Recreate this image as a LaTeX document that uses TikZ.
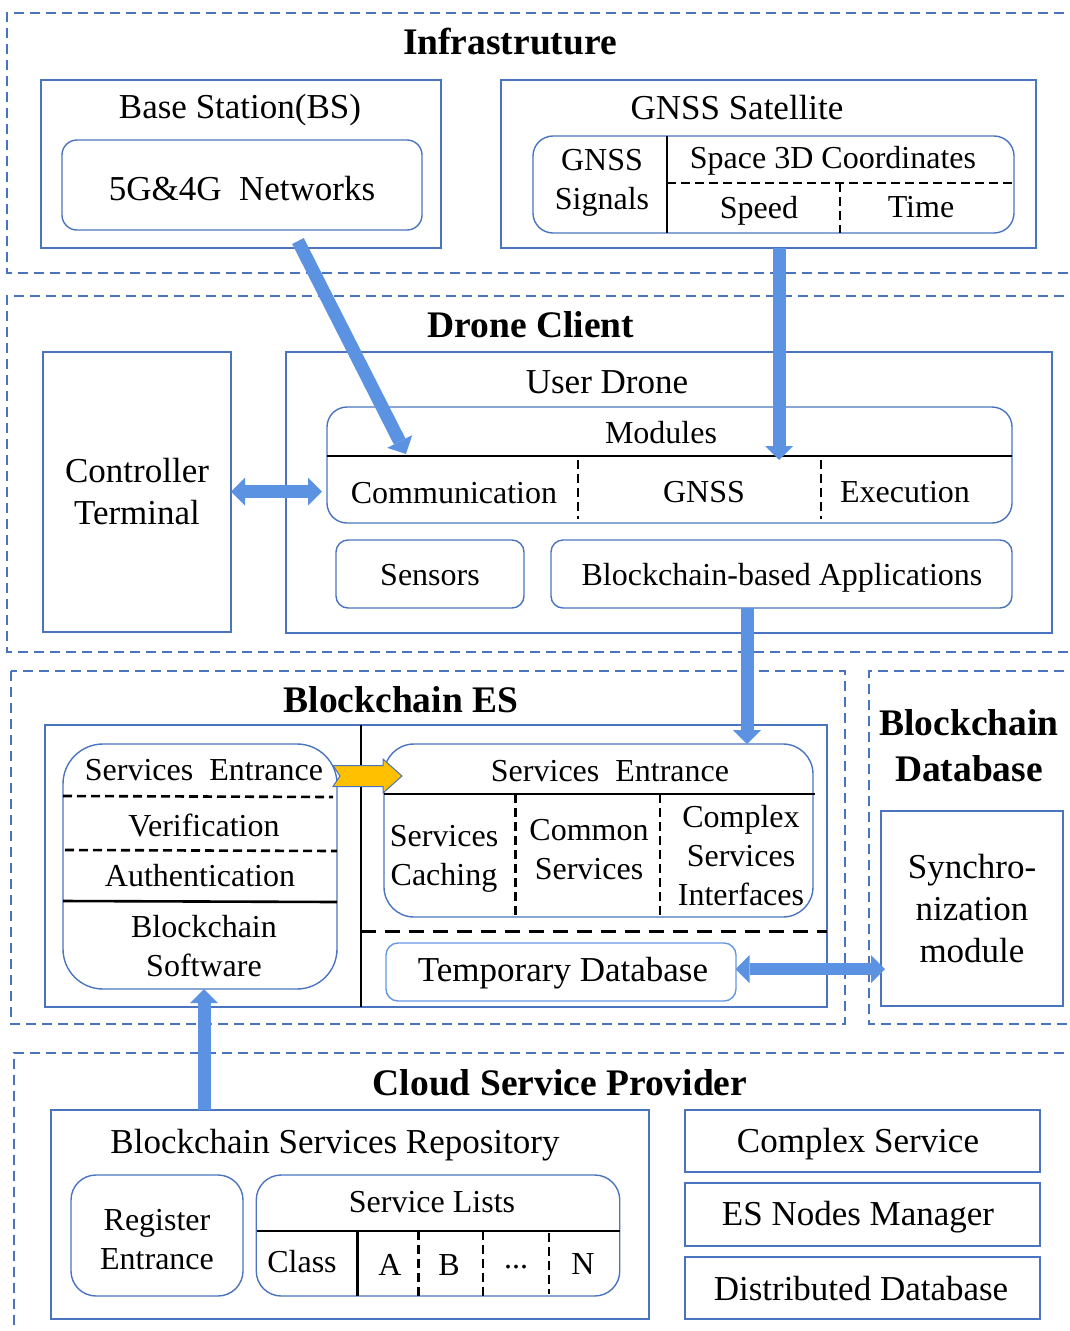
\documentclass[tikz,border=0pt]{standalone}
\usepackage{fontspec}
\setmainfont{Liberation Serif}
\usetikzlibrary{arrows.meta}
\usetikzlibrary{calc}

\definecolor{dblue}{RGB}{74,116,192}
\definecolor{lblue}{RGB}{100,150,225}
\definecolor{ablue}{RGB}{92,146,226}
\definecolor{gold}{RGB}{255,192,0}

\tikzset{
  grp/.style={draw=dblue, line width=1.7pt, dash pattern=on 10pt off 6pt},
  box/.style={draw=dblue, line width=1.4pt, inner sep=0pt, outer sep=0pt},
  rbox/.style={box, rounded corners=#1},
  lbl/.style={font=\fontsize{35}{42}\selectfont, align=center, inner sep=0pt},
  slbl/.style={font=\fontsize{32}{39}\selectfont, align=center, inner sep=0pt},
  ttl/.style={font=\fontsize{37.5}{46}\selectfont\bfseries, align=center, inner sep=0pt},
  divl/.style={black, line width=2.6pt},
  ddiv/.style={divl, dash pattern=on 9pt off 5pt},
  bt/.tip={Triangle[width=28pt,length=14pt,line width=0pt]},
  blk/.style={draw=ablue, line width=13pt, -bt},
  dblk/.style={draw=ablue, line width=12.5pt, bt-bt},
}

\begin{document}
\begin{tikzpicture}[x=1pt,y=-1pt]
\useasboundingbox (0,0) rectangle (1070,1331);

% dashed groups
\draw[grp] (1080,13) -- (7,13) -- (7,273) -- (1080,273);
\draw[grp] (1080,296) -- (7,296) -- (7,652) -- (1080,652);
\draw[grp] (11,671) rectangle (845,1024);
\draw[grp] (1080,671) -- (869,671) -- (869,1024) -- (1080,1024);
\draw[grp] (1080,1053) -- (14,1053) -- (14,1340);

% Infrastruture
\node[ttl] (infra) at (510,42) {Infrastruture};
\node[box, minimum width=400pt, minimum height=168pt] (bs) at (241,164) {};
\node[lbl] (bstitle) at (240,110.5) {Base Station(BS)};
\node[rbox=15pt, minimum width=360pt, minimum height=90pt] (net) at (242,185) {};
\node[lbl] (nettext) at (242,189) {5G\&4G\ \ Networks};
\node[box, minimum width=535pt, minimum height=168pt] (sat) at (768.5,164) {};
\node[lbl] (sattitle) at (737,107.5) {GNSS Satellite};
\node[rbox=20pt, minimum width=481pt, minimum height=97pt] (sig) at (773.5,184.5) {};
\draw[divl] (667,136) -- (667,233);
\draw[ddiv] (667,183) -- (1014,183);
\draw[ddiv] (840,183) -- (840,233);
\node[slbl] (gsig) at (602,183) {GNSS\\Signals};
\node[slbl] (coord) at (833,161) {Space 3D Coordinates};
\node[slbl] (speed) at (759,211) {Speed};
\node[slbl] (time) at (921,207) {Time};

% Drone Client
\node[ttl] (drone) at (531,325) {Drone Client};
\node[box, minimum width=188pt, minimum height=280pt, lbl] (ctrl) at (137,492) {Controller\\Terminal};
\node[box, minimum width=766pt, minimum height=281pt] (ud) at (669,492.5) {};
\node[lbl] (udtitle) at (607,382) {User Drone};
\node[rbox=20pt, minimum width=685pt, minimum height=116pt] (mod) at (669.5,465) {};
\node[slbl] (modtitle) at (661,433) {Modules};
\draw[divl] (327,456) -- (1012,456);
\draw[ddiv] (578,460) -- (578,519);
\draw[ddiv] (821,460) -- (821,519);
\node[slbl] (comm) at (454,493) {Communication};
\node[slbl] (gnss) at (704,492) {GNSS};
\node[slbl] (exec) at (905,492) {Execution};
\node[rbox=12pt, minimum width=188pt, minimum height=68pt] (sens) at (430,574) {};
\node[slbl] (senstext) at (430,575.5) {Sensors};
\node[rbox=12pt, minimum width=461pt, minimum height=68pt] (apps) at (781.5,574) {};
\node[slbl] (appstext) at (782,578) {Blockchain-based Applications};

% Blockchain ES
\node[ttl] (es) at (401,700) {Blockchain ES};
\node[box, minimum width=782pt, minimum height=282pt] (esbox) at (436,866) {};
\draw[divl] (361,725) -- (361,1007);
\node[rbox=40pt, minimum width=274pt, minimum height=245pt] (ent) at (200,866.5) {};
\node[slbl] (enttitle) at (204,770) {Services\ \ Entrance};
\draw[ddiv] (63,796) -- (333,797);
\node[slbl] (ver) at (204,825) {Verification};
\draw[ddiv] (65,850) -- (337,851);
\node[slbl] (auth) at (200,876) {Authentication};
\draw[divl] (63,901) -- (337,902);
\node[slbl] (bcsw) at (204,946) {Blockchain\\Software};
\node[rbox=30pt, minimum width=429pt, minimum height=173pt] (ent2) at (598.5,830.5) {};
\node[slbl] (ent2title) at (610,771) {Services\ \ Entrance};
\draw[divl] (384,794) -- (815,794);
\draw[ddiv] (515.5,794) -- (515.5,917);
\draw[ddiv] (660,794) -- (660,917);
\node[slbl] (cache) at (444,859) {Services\\Caching};
\node[slbl] (common) at (589,850) {Common\\Services};
\node[slbl] (cplx) at (741,856) {Complex\\Services\\Interfaces};
\draw[divl, line width=3pt, dash pattern=on 15pt off 9pt] (361,931) -- (827,931);
\node[rbox=12pt, draw=lblue, minimum width=350pt, minimum height=58pt] (tmp) at (561,972) {};
\node[lbl] (tmptext) at (563,973) {Temporary Database};

% Blockchain Database
\node[ttl] (bdb) at (969,746) {Blockchain\\Database};
\node[box, minimum width=182pt, minimum height=195pt, lbl] (sync) at (972,908.5) {Synchro-\\nization\\module};

% Cloud Service Provider
\node[ttl] (cloud) at (560,1083) {Cloud Service Provider};
\node[box, minimum width=598pt, minimum height=209pt] (repo) at (350,1214.5) {};
\node[lbl] (repotitle) at (335,1145) {Blockchain Services Repository};
\node[rbox=25pt, minimum width=172pt, minimum height=121pt] (reg) at (157,1235.5) {};
\node[slbl] (regtext) at (157,1239.5) {Register\\Entrance};
\node[rbox=25pt, minimum width=363.5pt, minimum height=121pt] (lists) at (438,1235.5) {};
\node[slbl] (liststitle) at (432,1202) {Service Lists};
\draw[divl] (256.5,1231) -- (620,1231);
\draw[divl] (357.5,1231) -- (357.5,1296);
\draw[ddiv] (418.5,1231) -- (418.5,1296);
\draw[ddiv] (483,1231) -- (483,1296);
\draw[ddiv] (549,1233) -- (549,1294);
\node[slbl] (cls) at (302,1262) {Class};
\node[slbl] (ca) at (390,1265) {A};
\node[slbl] (cb) at (449,1265) {B};
\node[slbl] (cdots) at (516,1267) {...};
\node[slbl] (cn) at (583,1264) {N};
\node[box, minimum width=355pt, minimum height=62pt] (cs) at (862.5,1141) {};
\node[lbl] (cstext) at (858,1144) {Complex Service};
\node[box, minimum width=355pt, minimum height=63pt] (esm) at (862.5,1214.5) {};
\node[lbl] (esmtext) at (858,1217) {ES Nodes Manager};
\node[box, minimum width=355pt, minimum height=62pt] (ddb) at (862.5,1288) {};
\node[lbl] (ddbtext) at (861,1289) {Distributed Database};

% arrows
\coordinate (netout) at (298,241);
\coordinate (modin) at (406,454);
\coordinate (satout) at (779,248);
\coordinate (gnssin) at (779,460);
\coordinate (modl) at (322,491.5);
\coordinate (appsout) at (747,608);
\coordinate (ent2in) at (747,744);
\coordinate (repoout) at (204,1110);
\coordinate (swin) at (204,989);
\coordinate (tmpout) at (735.5,969);
\coordinate (syncin) at (885,969);
\coordinate (yt) at (333,776);
\draw[blk] (netout) -- (modin);
\draw[blk] (satout) -- (gnssin);
\draw[dblk] (ctrl.east |- modl) -- (modl);
\draw[blk] (appsout) -- (ent2in);
\draw[blk] (repoout) -- (swin);
\draw[dblk] (tmpout) -- (syncin);
\filldraw[draw=dblue, fill=gold, line width=1pt] ($(yt)+(0,-10.5)$) -- ++(50,0) -- ++(0,-6.5) -- ++(19,17) -- ++(-19,17) -- ++(0,-6.5) -- ++(-50,0) -- ++(7,-10.5) -- cycle;
\end{tikzpicture}
\end{document}
